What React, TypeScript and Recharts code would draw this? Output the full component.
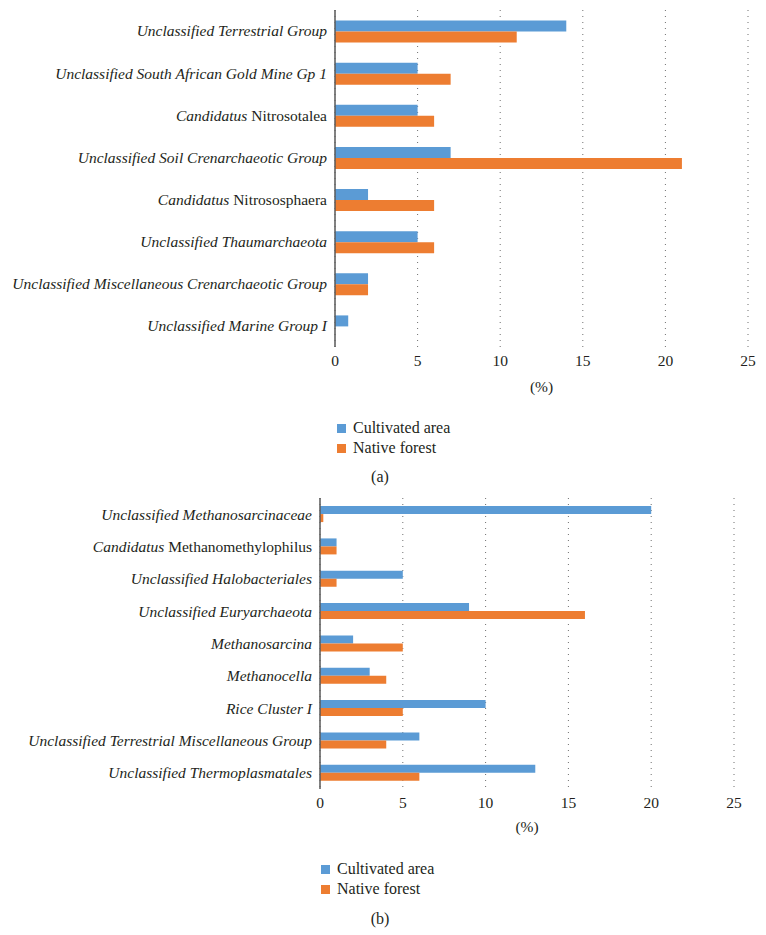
import React from "react";
import {
  BarChart,
  Bar,
  XAxis,
  YAxis,
  CartesianGrid,
  Legend,
} from "recharts";

const FONT = '"Liberation Serif", "DejaVu Serif", serif';
const BLUE = "#5B9BD5";
const ORANGE = "#ED7D31";
const TEXT = "#231f20";

const ticks = [0, 5, 10, 15, 20, 25];

// (a) Thaumarchaeota / Crenarchaeota groups
const groupsA = [
  "Unclassified Terrestrial Group",
  "Unclassified South African Gold Mine Gp 1",
  "Candidatus Nitrosotalea",
  "Unclassified Soil Crenarchaeotic Group",
  "Candidatus Nitrososphaera",
  "Unclassified Thaumarchaeota",
  "Unclassified Miscellaneous Crenarchaeotic Group",
  "Unclassified Marine Group I",
];
const cultivatedA = [14, 5, 5, 7, 2, 5, 2, 0.8];
const nativeA = [11, 7, 6, 21, 6, 6, 2, 0];

// (b) Euryarchaeota groups
const groupsB = [
  "Unclassified Methanosarcinaceae",
  "Candidatus Methanomethylophilus",
  "Unclassified Halobacteriales",
  "Unclassified Euryarchaeota",
  "Methanosarcina",
  "Methanocella",
  "Rice Cluster I",
  "Unclassified Terrestrial Miscellaneous Group",
  "Unclassified Thermoplasmatales",
];
const cultivatedB = [20, 1, 5, 9, 2, 3, 10, 6, 13];
const nativeB = [0.2, 1, 1, 16, 5, 4, 5, 4, 6];

const toRows = (names: string[], c: number[], n: number[]) =>
  names.map((name, i) => ({ name, cultivated: c[i], native: n[i] }));

const dataA = toRows(groupsA, cultivatedA, nativeA);
const dataB = toRows(groupsB, cultivatedB, nativeB);

// "Candidatus" is italic, the genus after it is roman; everything else italic
function GroupTick(props: any) {
  const { x, y, payload } = props;
  const label: string = payload.value;
  const cand = label.startsWith("Candidatus ");
  return (
    <text
      x={x}
      y={y}
      dy="0.35em"
      textAnchor="end"
      fill={TEXT}
      style={{ fontFamily: FONT, fontSize: 15.5 }}
    >
      {cand ? (
        <>
          <tspan fontStyle="italic">Candidatus</tspan>
          <tspan> {label.slice(11)}</tspan>
        </>
      ) : (
        <tspan fontStyle="italic">{label}</tspan>
      )}
    </text>
  );
}

function LegendBox(props: any) {
  const { payload } = props;
  return (
    <div style={{ fontFamily: FONT, fontSize: 16, color: TEXT }}>
      {(payload || []).map((p: any) => (
        <div
          key={p.value}
          style={{ display: "flex", alignItems: "center", height: 20 }}
        >
          <span
            style={{
              display: "inline-block",
              width: 9,
              height: 9,
              background: p.color,
              marginRight: 7,
            }}
          />
          {p.value}
        </div>
      ))}
    </div>
  );
}

function Panel({
  data,
  height,
  axisWidth,
  right,
  bottom,
  legendTop,
  legendLeft,
  labelOffset,
}: any) {
  return (
    <BarChart
      width={766}
      height={height}
      data={data}
      layout="vertical"
      margin={{ top: 10, right, bottom, left: 0 }}
      barCategoryGap="25%"
      barGap={0}
      style={{ fontFamily: FONT }}
    >
      <CartesianGrid
        horizontal={false}
        stroke="#6f6f6f"
        strokeDasharray="1 5"
      />
      <XAxis
        type="number"
        domain={[0, 25]}
        ticks={ticks}
        axisLine={false}
        tickLine={false}
        height={45}
        tick={{ fill: TEXT, fontFamily: FONT, fontSize: 15.5 }}
        label={{
          value: "(%)",
          position: "insideBottom",
          offset: labelOffset,
          fill: TEXT,
          fontFamily: FONT,
          fontSize: 15.5,
        }}
      />
      <YAxis
        type="category"
        dataKey="name"
        width={axisWidth}
        tickLine={false}
        axisLine={{ stroke: "#595959", strokeWidth: 1.5 }}
        interval={0}
        tick={<GroupTick />}
      />
      <Legend
        layout="vertical"
        align="center"
        verticalAlign="middle"
        wrapperStyle={{ top: legendTop, left: legendLeft, width: 200 }}
        content={<LegendBox />}
      />
      <Bar
        dataKey="cultivated"
        name="Cultivated area"
        fill={BLUE}
        isAnimationActive={false}
      />
      <Bar
        dataKey="native"
        name="Native forest"
        fill={ORANGE}
        isAnimationActive={false}
      />
    </BarChart>
  );
}

const caption: React.CSSProperties = {
  position: "absolute",
  width: 60,
  textAlign: "center",
  fontFamily: FONT,
  fontSize: 16,
  color: TEXT,
};

export default function App() {
  return (
    <div
      style={{
        position: "absolute",
        left: 0,
        top: 0,
        width: 766,
        height: 935,
        background: "#fff",
        fontFamily: FONT,
      }}
    >
      <div style={{ position: "absolute", left: 0, top: 0 }}>
        <Panel
          data={dataA}
          height={488}
          axisWidth={335}
          right={18}
          bottom={96}
          legendTop={418}
          legendLeft={337}
          labelOffset={0}
        />
      </div>
      <div style={{ ...caption, left: 350, top: 468 }}>(a)</div>
      <div style={{ position: "absolute", left: 0, top: 488 }}>
        <Panel
          data={dataB}
          height={447}
          axisWidth={320}
          right={32}
          bottom={101}
          legendTop={371}
          legendLeft={321}
          labelOffset={2}
        />
      </div>
      <div style={{ ...caption, left: 350, top: 910 }}>(b)</div>
    </div>
  );
}
